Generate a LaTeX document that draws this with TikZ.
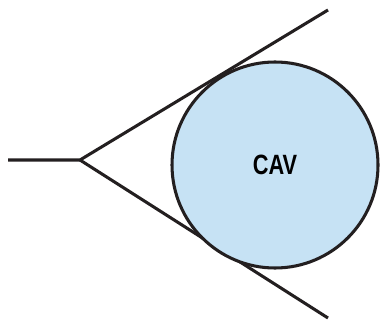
\documentclass[tikz,border=0pt]{standalone}
\usepackage{fontspec}
\setsansfont{Liberation Sans}
\usepackage{tikz}
\usetikzlibrary{positioning,calc}
\definecolor{cA}{HTML}{231f20}
\definecolor{cB}{HTML}{c6e2f4}
\tikzset{
  wire/.style={line width=2.3pt,cA},
  cavdisc/.style={circle,draw=cA,line width=2.3pt,fill=cB,
                  minimum size=206\pxu,inner sep=0pt,
                  font=\sffamily\bfseries\fontsize{21}{21}\selectfont},
}
\newlength{\pxu}
\setlength{\pxu}{0.0264583cm}

\begin{document}
\begin{tikzpicture}[x=\pxu,y=-\pxu]
  \useasboundingbox (0,0) rectangle (380,322);
  % cone of two tangent lines and the tail
  \coordinate (tail) at (8,160);
  \coordinate (apex) at (80,160);
  \coordinate (up) at (328,10);
  \coordinate (low) at (328,318);
  \draw[wire,line join=miter] (tail) -- (apex) -- (up);
  \draw[wire] (apex) -- (low);
  \node[cavdisc] (cav) at (275,165) {\scalebox{0.78}[1]{CAV}};
\end{tikzpicture}
\end{document}
